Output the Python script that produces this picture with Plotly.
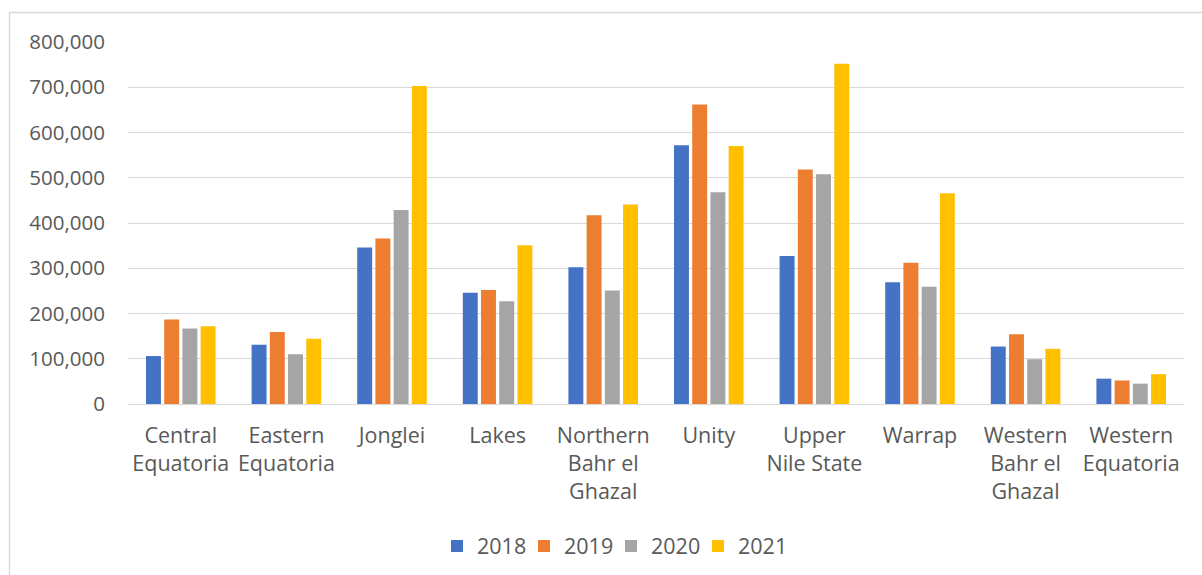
import plotly.graph_objects as go

# States and their axis labels (wrapped the way they appear under the bars)
states = ["Central Equatoria", "Eastern Equatoria", "Jonglei", "Lakes",
          "Northern Bahr el Ghazal", "Unity", "Upper Nile State", "Warrap",
          "Western Bahr el Ghazal", "Western Equatoria"]
state_labels = ["Central<br>Equatoria", "Eastern<br>Equatoria", "Jonglei", "Lakes",
                "Northern<br>Bahr el<br>Ghazal", "Unity", "Upper<br>Nile State", "Warrap",
                "Western<br>Bahr el<br>Ghazal", "Western<br>Equatoria"]

years = ["2018", "2019", "2020", "2021"]
values_2018 = [106000, 131000, 346000, 246000, 302000, 572000, 327000, 269000, 127000, 56000]
values_2019 = [187000, 159000, 366000, 252000, 417000, 662000, 518000, 312000, 154000, 52000]
values_2020 = [167000, 110000, 429000, 227000, 251000, 468000, 508000, 259000, 99000, 45000]
values_2021 = [172000, 144000, 703000, 351000, 441000, 570000, 752000, 466000, 122000, 66000]

series = [values_2018, values_2019, values_2020, values_2021]
colors = ["#4472C4", "#ED7D31", "#A5A5A5", "#FFC000"]

W, H = 1202, 575
ML, MR, MT, MB = 128, 18, 42, 171

fig = go.Figure()
for year, vals, col in zip(years, series, colors):
    fig.add_trace(go.Bar(
        x=states, y=vals, name=year,
        marker=dict(color=col, line=dict(width=0)),
    ))

plot_w = W - ML - MR
plot_h = H - MT - MB

def px_x(p):
    return (p - ML) / plot_w

def px_y(p):
    return (H - MB - p) / plot_h

text_col = "#595959"
grid_col = "#D9D9D9"

fig.update_layout(
    width=W, height=H,
    margin=dict(l=ML, r=MR, t=MT, b=MB, autoexpand=False),
    paper_bgcolor="white", plot_bgcolor="white",
    font=dict(family="Open Sans", size=20, color=text_col),
    barmode="group", bargap=0.31, bargroupgap=0.18,
    showlegend=True,
    legend=dict(orientation="h", x=px_x(437), xanchor="left",
                y=px_y(546), yanchor="middle",
                font=dict(size=21.5, color=text_col),
                entrywidth=42, entrywidthmode="pixels",
                itemwidth=30, traceorder="normal"),
    shapes=[dict(type="rect", xref="paper", yref="paper",
                 x0=px_x(9.5), x1=px_x(1230), y0=px_y(620), y1=px_y(12.5),
                 line=dict(color=grid_col, width=1.3), fillcolor="rgba(0,0,0,0)",
                 layer="below")],
)

fig.update_xaxes(
    tickmode="array", tickvals=states, ticktext=state_labels,
    showgrid=False, showline=False, zeroline=False,
    ticks="outside", ticklen=12, tickcolor="rgba(0,0,0,0)",
    tickangle=0, tickfont=dict(size=21.5, color=text_col),
)
fig.update_yaxes(
    range=[0, 800000], dtick=100000, tickformat=",d",
    showgrid=True, gridcolor=grid_col, gridwidth=1.3,
    zeroline=True, zerolinecolor=grid_col, zerolinewidth=1.3,
    showline=False,
    ticks="outside", ticklen=18, tickcolor="rgba(0,0,0,0)",
    tickfont=dict(size=20.5, color=text_col),
)

fig.write_html("out.html")
